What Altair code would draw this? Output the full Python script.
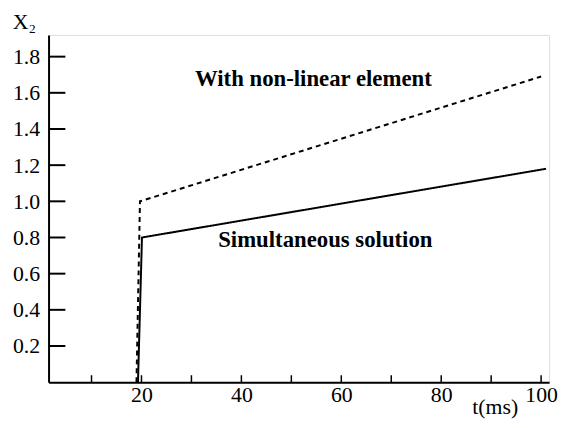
import altair as alt
import pandas as pd

# Series
dashed_t = [19.0, 19.7, 100.0]
dashed_x = [0.0, 1.0, 1.69]
solid_t = [19.3, 20.1, 101.0]
solid_x = [0.0, 0.8, 1.18]

y_ticks = [0.2, 0.4, 0.6, 0.8, 1.0, 1.2, 1.4, 1.6, 1.8]
x_labels = [20, 40, 60, 80, 100]
x_ticks = [10, 20, 30, 40, 50, 60, 70, 80, 90, 100]

notes = ["With non-linear element", "Simultaneous solution"]
note_t = [54.4, 56.8]
note_x = [1.638, 0.745]

XDOM = [1.4, 101.6]
YDOM = [0.0, 1.92]
W, H = 506, 351
FONT = "Liberation Serif"

lines = pd.DataFrame(
    {"t": dashed_t + solid_t,
     "x": dashed_x + solid_x,
     "s": ["dashed"] * len(dashed_t) + ["solid"] * len(solid_t),
     "o": list(range(len(dashed_t))) + list(range(len(solid_t)))}
)

xs = alt.Scale(domain=XDOM, nice=False, zero=False)
ys = alt.Scale(domain=YDOM, nice=False, zero=False)

base = alt.Chart(lines).mark_line(color="black", strokeWidth=2).encode(
    x=alt.X("t:Q", scale=xs,
            axis=alt.Axis(values=x_labels, tickSize=0, grid=False, labelPadding=3,
                          title="t(ms)", titleX=451, titleY=32, titleAlign="center",
                          titleBaseline="alphabetic", titleFontWeight="normal",
                          titleFont=FONT, titleFontSize=22, labelFont=FONT,
                          labelFontSize=22, labelColor="black", titleColor="black",
                          domainColor="black", domainWidth=2, labelFlush=False)),
    y=alt.Y("x:Q", scale=ys,
            axis=alt.Axis(values=y_ticks, tickSize=0, grid=False, labelPadding=9,
                          format=".1f",
                          title="X₂", titleAngle=0, titleX=-25, titleY=-14,
                          titleAlign="center", titleBaseline="middle",
                          titleFontWeight="normal", titleFont=FONT, titleFontSize=22,
                          labelFont=FONT, labelFontSize=22, labelColor="black",
                          titleColor="black", domainColor="black", domainWidth=2)),
    strokeDash=alt.StrokeDash("s:N", scale=alt.Scale(domain=["dashed", "solid"],
                                                      range=[[5, 4], [1, 0]]),
                              legend=None),
    detail="s:N",
    order="o:Q",
)

ytick_df = pd.DataFrame({"v": y_ticks})
yt = alt.Chart(ytick_df).mark_rule(color="black", strokeWidth=2).encode(
    y=alt.Y("v:Q", scale=ys), x=alt.value(0), x2=alt.value(17)
)

xtick_df = pd.DataFrame({"v": x_ticks})
xt = alt.Chart(xtick_df).mark_rule(color="black", strokeWidth=1.5).encode(
    x=alt.X("v:Q", scale=xs), y=alt.value(H), y2=alt.value(H - 7)
)

note_df = pd.DataFrame({"label": notes, "t": note_t, "x": note_x})
tx = alt.Chart(note_df).mark_text(font=FONT, fontSize=23, fontWeight="bold",
                                  color="black", align="center",
                                  baseline="alphabetic").encode(
    x=alt.X("t:Q", scale=xs), y=alt.Y("x:Q", scale=ys), text="label:N"
)

chart = alt.layer(base, yt, xt, tx).properties(
    width=W, height=H,
    autosize=alt.AutoSizeParams(type="none"),
    padding={"left": 41, "top": 25, "right": 10, "bottom": 36},
).configure_view(stroke=None).configure(background="white")

chart.save("out.html", embed_options={"renderer": "svg", "actions": False})
